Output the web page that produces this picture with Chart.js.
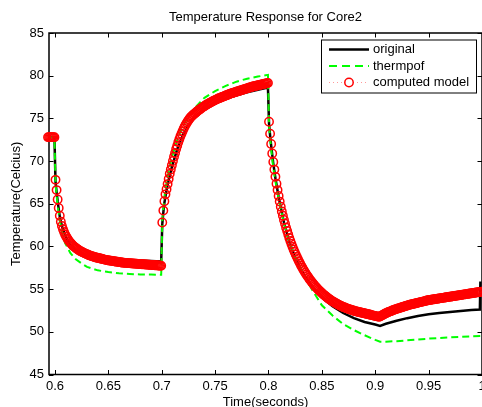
<!DOCTYPE html>
<html lang="en">
<head>
  <meta charset="UTF-8">
  <title>Temperature Response for Core2</title>
  <script src="https://cdn.jsdelivr.net/npm/chart.js"></script>
  <style>
    html, body { margin: 0; padding: 0; background: #fff; }
    canvas { display: block; }
  </style>
</head>
<body>
<canvas id="grafica" width="482" height="407"></canvas>

<script>
// tick values
const xTicks = [0.6, 0.65, 0.7, 0.75, 0.8, 0.85, 0.9, 0.95, 1];
const yTicks = [45, 50, 55, 60, 65, 70, 75, 80, 85];

// original (black)
const blackTime = [0.5935, 0.5995, 0.6005, 0.6015, 0.6025, 0.6045, 0.6065, 0.6095, 0.6145, 0.6195, 0.625, 0.63, 0.64, 0.65, 0.66, 0.67, 0.68, 0.69, 0.6995,
  0.7005, 0.7015, 0.7025, 0.7045, 0.7065, 0.7095, 0.7145, 0.7195, 0.725, 0.73, 0.74, 0.75, 0.76, 0.77, 0.78, 0.79, 0.7995,
  0.8005, 0.8015, 0.8025, 0.8045, 0.8065, 0.8095, 0.8145, 0.8195, 0.825, 0.83, 0.835, 0.84, 0.85, 0.86, 0.87, 0.88, 0.89, 0.9, 0.9045,
  0.91, 0.92, 0.93, 0.94, 0.95, 0.96, 0.97, 0.98, 0.99, 0.998, 0.9985];
const blackTemp = [72.8, 72.8, 67.6, 66.4, 65.3, 63.5, 62.4, 61.3, 60.2, 59.6, 59.2, 58.95, 58.7, 58.55, 58.45, 58.38, 58.32, 58.28, 58.25,
  62.6, 64.0, 65.1, 66.6, 67.8, 69.3, 71.4, 73.0, 74.2, 75.0, 76.05, 76.75, 77.3, 77.7, 78.05, 78.35, 78.6,
  74.4, 73.0, 71.8, 69.7, 68.0, 65.8, 62.8, 60.5, 58.7, 57.4, 56.3, 55.4, 54.0, 53.0, 52.2, 51.6, 51.15, 50.85, 50.7,
  50.95, 51.3, 51.6, 51.85, 52.05, 52.2, 52.33, 52.45, 52.55, 52.6, 55.9];

// thermpof (green)
const greenTime = [0.5935, 0.5995, 0.6005, 0.6025, 0.6045, 0.6075, 0.6095, 0.6145, 0.6195, 0.625, 0.63, 0.64, 0.65, 0.66, 0.67, 0.68, 0.69, 0.6995,
  0.7005, 0.7025, 0.7045, 0.7065, 0.7095, 0.7145, 0.7195, 0.725, 0.73, 0.74, 0.75, 0.76, 0.77, 0.78, 0.79, 0.7995,
  0.8005, 0.8025, 0.8045, 0.8075, 0.8095, 0.8145, 0.8195, 0.825, 0.83, 0.835, 0.84, 0.85, 0.86, 0.87, 0.88, 0.89, 0.9, 0.9045,
  0.91, 0.92, 0.93, 0.94, 0.95, 0.96, 0.97, 0.98, 0.99, 0.9995];
const greenTemp = [72.8, 72.8, 67.3, 64.8, 63.0, 61.2, 60.4, 59.2, 58.5, 58.0, 57.6, 57.2, 57.0, 56.85, 56.78, 56.72, 56.7, 56.68,
  63.0, 65.8, 67.5, 68.8, 70.4, 72.5, 74.0, 75.2, 76.1, 77.4, 78.2, 78.8, 79.3, 79.65, 79.9, 80.1,
  74.2, 71.4, 69.2, 66.9, 65.6, 62.7, 60.5, 58.6, 57.5, 56.2, 55.1, 53.1, 51.9, 50.9, 50.2, 49.6, 49.05, 48.85,
  48.85, 48.9, 49.0, 49.1, 49.2, 49.28, 49.35, 49.42, 49.47, 49.5];

// computed model (red circles), one sample per ms
const redStart = 0.5935, redStep = 0.001;
const redTemp = [
  72.8, 72.8, 72.8, 72.8, 72.8, 72.8, 72.8,
  67.8, 66.6, 65.5, 64.5, 63.6, 62.9, 62.4, 62.0, 61.7, 61.4,
  61.15, 60.95, 60.75, 60.58, 60.42, 60.28, 60.15, 60.03, 59.92, 59.82,
  59.73, 59.64, 59.56, 59.48, 59.41, 59.34, 59.28, 59.22, 59.16, 59.1,
  59.05, 59.0, 58.95, 58.9, 58.86, 58.82, 58.78, 58.74, 58.7, 58.67,
  58.64, 58.61, 58.58, 58.55, 58.52, 58.49, 58.46, 58.43, 58.4, 58.38,
  58.36, 58.34, 58.32, 58.3, 58.28, 58.26, 58.24, 58.22, 58.2, 58.18,
  58.16, 58.14, 58.12, 58.1, 58.09, 58.08, 58.07, 58.06, 58.05, 58.04,
  58.03, 58.02, 58.01, 58.0, 57.99, 57.98, 57.97, 57.96, 57.95, 57.94,
  57.93, 57.92, 57.91, 57.9, 57.89, 57.88, 57.87, 57.86, 57.85, 57.84,
  57.83, 57.82, 57.81, 57.8, 57.79, 57.78, 57.77, 57.76, 57.75, 57.74,
  62.8, 64.2, 65.3, 66.1, 66.7, 67.3, 67.9, 68.5, 69.0, 69.5,
  70.0, 70.5, 70.95, 71.4, 71.8, 72.2, 72.55, 72.9, 73.2, 73.5,
  73.78, 74.04, 74.28, 74.5, 74.7, 74.88, 75.04, 75.18, 75.31, 75.42,
  75.53, 75.64, 75.75, 75.85, 75.95, 76.05, 76.14, 76.23, 76.32, 76.4,
  76.48, 76.56, 76.64, 76.71, 76.78, 76.85, 76.92, 76.99, 77.05, 77.11,
  77.17, 77.23, 77.29, 77.35, 77.4, 77.45, 77.5, 77.55, 77.6, 77.65,
  77.7, 77.75, 77.8, 77.85, 77.9, 77.94, 77.98, 78.02, 78.06, 78.1,
  78.14, 78.18, 78.22, 78.26, 78.3, 78.34, 78.38, 78.42, 78.46, 78.5,
  78.54, 78.58, 78.62, 78.66, 78.7, 78.73, 78.76, 78.79, 78.82, 78.85,
  78.88, 78.91, 78.94, 78.97, 79.0, 79.03, 79.06, 79.09, 79.12, 79.15,
  74.6, 73.2, 72.0, 70.9, 69.9, 69.0, 68.15, 67.35, 66.6, 65.9,
  65.25, 64.65, 64.1, 63.6, 63.1, 62.65, 62.2, 61.8, 61.4, 61.0,
  60.65, 60.3, 59.95, 59.65, 59.35, 59.05, 58.78, 58.52, 58.26, 58.02,
  57.78, 57.55, 57.33, 57.12, 56.92, 56.72, 56.53, 56.35, 56.17, 56.0,
  55.84, 55.68, 55.53, 55.38, 55.24, 55.1, 54.97, 54.84, 54.72, 54.6,
  54.49, 54.38, 54.27, 54.17, 54.07, 53.97, 53.88, 53.79, 53.7, 53.62,
  53.54, 53.46, 53.39, 53.32, 53.25, 53.18, 53.12, 53.06, 53.0, 52.94,
  52.89, 52.84, 52.79, 52.74, 52.69, 52.65, 52.61, 52.57, 52.53, 52.49,
  52.45, 52.42, 52.38, 52.35, 52.32, 52.29, 52.26, 52.23, 52.2, 52.17,
  52.14, 52.11, 52.08, 52.05, 52.02, 51.99, 51.96, 51.93, 51.9, 51.87,
  51.84, 51.81, 51.78, 51.76, 51.8, 51.87, 51.94, 52.01, 52.08, 52.14,
  52.2, 52.26, 52.32, 52.37, 52.42, 52.47, 52.52, 52.57, 52.62, 52.66,
  52.7, 52.74, 52.78, 52.82, 52.86, 52.9, 52.94, 52.98, 53.02, 53.06,
  53.1, 53.14, 53.18, 53.21, 53.24, 53.27, 53.3, 53.33, 53.36, 53.39,
  53.42, 53.45, 53.48, 53.51, 53.54, 53.57, 53.6, 53.63, 53.66, 53.69,
  53.72, 53.74, 53.76, 53.78, 53.8, 53.82, 53.84, 53.86, 53.88, 53.9,
  53.92, 53.94, 53.96, 53.98, 54.0, 54.02, 54.04, 54.06, 54.08, 54.1,
  54.12, 54.14, 54.16, 54.18, 54.2, 54.22, 54.24, 54.26, 54.28, 54.3,
  54.32, 54.34, 54.36, 54.38, 54.4, 54.42, 54.44, 54.46, 54.48, 54.5,
  54.52, 54.54, 54.56, 54.58, 54.6, 54.62, 54.64, 54.66, 54.68, 54.7
];

const pares = (t, v) => t.map((x, i) => ({ x: x, y: v[i] }));
const redPoints = redTemp.map((v, i) => ({ x: redStart + i * redStep, y: v }));

Chart.defaults.font.family = "'Liberation Sans', Arial, Helvetica, sans-serif";
Chart.defaults.font.size = 13;
Chart.defaults.color = "#000";

// box with inward ticks on all four sides, matlab style
const marco = {
  id: "marco",
  beforeDatasetsDraw(chart) {
    const { ctx, chartArea: a, scales: { x, y } } = chart;
    const tl = 4.5;
    ctx.save();
    ctx.strokeStyle = "#000";
    ctx.lineWidth = 1;
    ctx.beginPath();
    x.ticks.forEach(t => {
      const px = Math.round(x.getPixelForValue(t.value)) + 0.5;
      ctx.moveTo(px, a.bottom); ctx.lineTo(px, a.bottom - tl);
      ctx.moveTo(px, a.top); ctx.lineTo(px, a.top + tl);
    });
    y.ticks.forEach(t => {
      const py = Math.round(y.getPixelForValue(t.value)) + 0.5;
      ctx.moveTo(a.left, py); ctx.lineTo(a.left + tl, py);
      ctx.moveTo(a.right, py); ctx.lineTo(a.right - tl, py);
    });
    ctx.stroke();
    ctx.lineWidth = 1.5;
    ctx.strokeRect(a.left, a.top, a.right - a.left, a.bottom - a.top);
    ctx.restore();
  }
};

// legend box in the top right corner of the axes
const leyenda = {
  id: "leyenda",
  afterDraw(chart) {
    const { ctx, chartArea: a } = chart;
    const w = 155, h = 53;
    const left = a.right - 161, top = a.top + 6.5;
    ctx.save();
    ctx.fillStyle = "#fff";
    ctx.fillRect(left, top, w, h);
    ctx.strokeStyle = "#000";
    ctx.lineWidth = 1;
    ctx.strokeRect(left + 0.5, top + 0.5, w, h);
    ctx.font = "13px 'Liberation Sans', Arial, sans-serif";
    ctx.textBaseline = "middle";
    chart.data.datasets.forEach((ds, i) => {
      const yy = top + 10 + i * 16.5;
      ctx.save();
      ctx.strokeStyle = ds.legendLine || ds.borderColor;
      ctx.lineWidth = ds.borderWidth;
      ctx.setLineDash(ds.legendDash || ds.borderDash || []);
      ctx.beginPath();
      ctx.moveTo(left + 8, yy); ctx.lineTo(left + 48, yy);
      ctx.stroke();
      if (ds.pointRadius > 0) {
        ctx.setLineDash([]);
        ctx.lineWidth = ds.pointBorderWidth;
        ctx.strokeStyle = ds.pointBorderColor;
        ctx.fillStyle = "#fff";
        ctx.beginPath();
        ctx.arc(left + 28, yy, ds.pointRadius, 0, Math.PI * 2);
        ctx.fill();
        ctx.stroke();
      }
      ctx.restore();
      ctx.fillStyle = "#000";
      ctx.fillText(ds.label, left + 52, yy);
    });
    ctx.restore();
  }
};

new Chart(document.getElementById("grafica"), {
  type: "scatter",
  data: {
    datasets: [
      {
        label: "original", data: pares(blackTime, blackTemp), showLine: true,
        borderColor: "#000", borderWidth: 2.5, pointRadius: 0, order: 3
      },
      {
        label: "thermpof", data: pares(greenTime, greenTemp), showLine: true,
        borderColor: "#00ff00", borderWidth: 2, borderDash: [7, 4], legendDash: [8, 5],
        pointRadius: 0, order: 2
      },
      {
        label: "computed model", data: redPoints, showLine: true,
        borderColor: "rgba(255,0,0,0.35)", borderWidth: 1, borderDash: [1, 3], legendLine: "#ff9999",
        pointRadius: 4.2, pointStyle: "circle", pointBorderColor: "#ff0000", pointBorderWidth: 1.5,
        pointBackgroundColor: "rgba(0,0,0,0)", clip: false, order: 1
      }
    ]
  },
  options: {
    responsive: false,
    animation: false,
    devicePixelRatio: 1,
    layout: { padding: 0, autoPadding: false },
    plugins: {
      legend: { display: false },
      tooltip: { enabled: false },
      title: {
        display: true, text: "Temperature Response for Core2", fullSize: false,
        font: { size: 13, weight: "normal" }, color: "#000",
        padding: { top: 10, bottom: 7.4 }
      }
    },
    scales: {
      x: {
        type: "linear", min: 0.5944, max: 1,
        grid: { display: false, drawTicks: false },
        border: { display: false },
        afterBuildTicks: s => { s.ticks = xTicks.map(v => ({ value: v })); },
        ticks: {
          autoSkip: false, maxRotation: 0, padding: 4,
          callback: v => String(Number(v.toFixed(3)))
        },
        title: { display: true, text: "Time(seconds)", padding: { top: 0, bottom: -3 } },
        afterFit: s => { s.height = 32.5; s.paddingLeft = 0; s.paddingRight = 0; }
      },
      y: {
        min: 45, max: 85,
        grid: { display: false, drawTicks: false },
        border: { display: false },
        afterBuildTicks: s => { s.ticks = yTicks.map(v => ({ value: v })); },
        ticks: { padding: 5 },
        title: { display: true, text: "Temperature(Celcius)", padding: { top: 9, bottom: 0 } },
        afterFit: s => { s.width = 49; s.paddingTop = 0; s.paddingBottom = 0; }
      }
    }
  },
  plugins: [marco, leyenda]
});
</script>
</body>
</html>
